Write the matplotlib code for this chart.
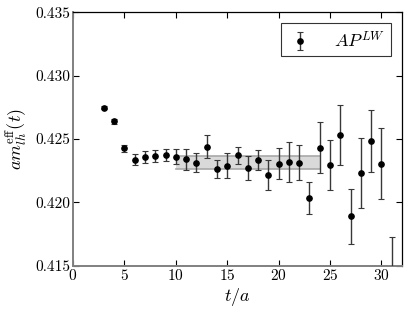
import matplotlib
matplotlib.use("Agg")
import matplotlib.pyplot as plt
import numpy as np

plt.rcParams['font.family'] = 'serif'
plt.rcParams['font.serif'] = ['cmr10', 'DejaVu Serif']
plt.rcParams['mathtext.fontset'] = 'cm'
plt.rcParams['axes.formatter.use_mathtext'] = True
plt.rcParams['axes.unicode_minus'] = False

t = [3, 4, 5, 6, 7, 8, 9, 10, 11, 12, 13, 14, 15, 16, 17, 18, 19, 20, 21, 22,
     23, 24, 25, 26, 27, 28, 29, 30, 31]
m_eff = [0.42748, 0.4264, 0.42427, 0.42337, 0.42359, 0.42369, 0.42374, 0.42361,
         0.4234, 0.42314, 0.4244, 0.42266, 0.4229, 0.42372, 0.42272, 0.42332,
         0.42214, 0.42306, 0.42319, 0.42314, 0.42035, 0.42432, 0.42296, 0.4253,
         0.4189, 0.42232, 0.42483, 0.42306, 0.4140]
m_err = [0.00012, 0.0002, 0.00025, 0.00045, 0.0005, 0.00047, 0.00049, 0.0006,
         0.00085, 0.00076, 0.0009, 0.0007, 0.001, 0.00066, 0.00096, 0.0008,
         0.0012, 0.0012, 0.0016, 0.0014, 0.00126, 0.002, 0.002, 0.00237,
         0.00217, 0.0028, 0.00245, 0.0028, 0.0033]
fit_range = [10, 24]
fit_value = 0.42315
fit_err = 0.00053
series_label = r'$AP^{LW}$'

fig = plt.figure(figsize=(4.07, 3.10), dpi=100)
ax = fig.add_axes([0.1794, 0.1429, 0.8083, 0.8168])

ax.fill_between(fit_range, [fit_value - fit_err] * 2, [fit_value + fit_err] * 2,
                facecolor='#d9d9d9', edgecolor='none', zorder=1)
ax.plot(fit_range, [fit_value - fit_err] * 2, color='#a8a8a8', lw=1.2, zorder=2)
ax.plot(fit_range, [fit_value + fit_err] * 2, color='#a8a8a8', lw=1.2, zorder=2)

ax.errorbar(t, m_eff, yerr=m_err, fmt='o', color='black', ecolor='#383838',
            markersize=3.8, elinewidth=1.0, capsize=2.5, capthick=0.8,
            label=series_label, zorder=3)

ax.set_xlim(0, 32)
ax.set_ylim(0.415, 0.435)
ax.set_xticks([0, 5, 10, 15, 20, 25, 30])
ax.set_yticks([0.415, 0.420, 0.425, 0.430, 0.435])
ax.set_yticklabels(['0.415', '0.420', '0.425', '0.430', '0.435'])
ax.tick_params(direction='in', top=True, right=True, length=4, width=0.8,
               labelsize=11, pad=2)

for s in ['left', 'bottom']:
    ax.spines[s].set_color('#808080')
    ax.spines[s].set_linewidth(1.4)
for s in ['top', 'right']:
    ax.spines[s].set_color('black')
    ax.spines[s].set_linewidth(0.9)

ax.set_xlabel(r'$t/a$', fontsize=13, labelpad=2)
ax.set_ylabel(r'$am_{lh}^{\rm eff}(t)$', fontsize=13, labelpad=4)

leg = ax.legend(loc='upper right', fancybox=False, edgecolor='black',
                fontsize=13, handlelength=1.4, borderpad=0.35, handletextpad=1.2,
                borderaxespad=0.6)
leg.get_frame().set_linewidth(0.8)

fig.savefig('out.png', dpi=100)
